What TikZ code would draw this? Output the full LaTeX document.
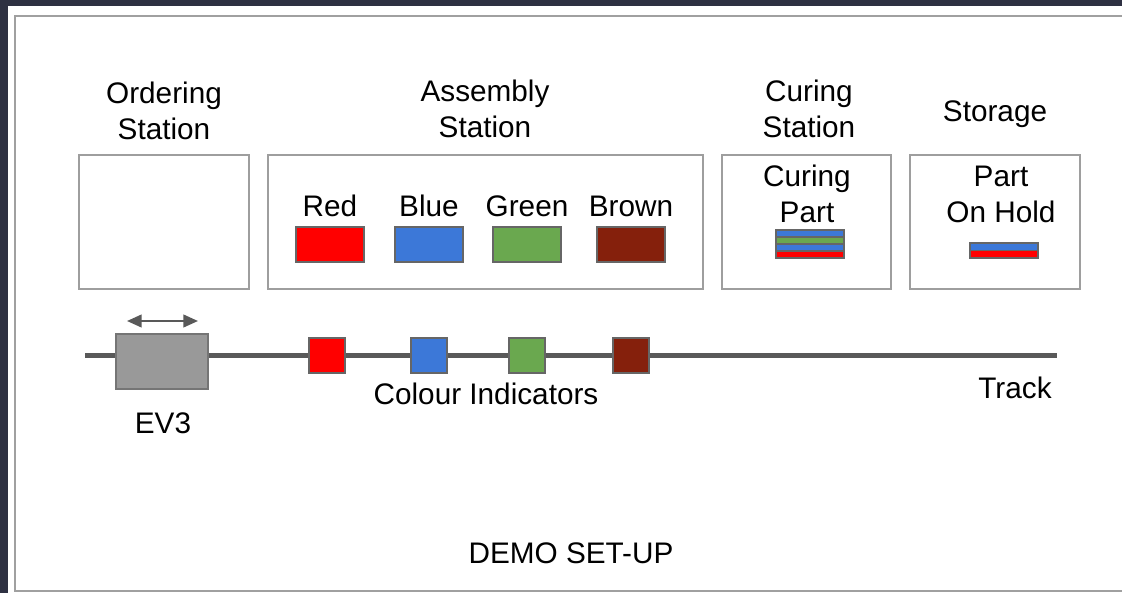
\documentclass[tikz,border=0pt]{standalone}
\usepackage{fontspec}
\setmainfont{Liberation Sans}
\usetikzlibrary{arrows.meta}
\definecolor{bgdark}{HTML}{2E3142}
\definecolor{framegray}{HTML}{A0A0A0}
\definecolor{boxgray}{HTML}{9E9E9E}
\definecolor{edgegray}{HTML}{666666}
\definecolor{trackgray}{HTML}{595959}
\definecolor{evgray}{HTML}{999999}
\definecolor{cred}{HTML}{FF0000}
\definecolor{cblue}{HTML}{3C78D8}
\definecolor{cgreen}{HTML}{6AA84F}
\definecolor{cbrown}{HTML}{85200C}
\tikzset{
  lbl/.style={align=center, inner sep=0pt, font=\fontsize{22.3}{27}\selectfont},
  station/.style={draw=boxgray, line width=1pt, minimum height=100.5pt, inner sep=0pt, outer sep=0pt},
  swatch/.style={draw=edgegray, line width=1.2pt, minimum width=51pt, minimum height=26.25pt, inner sep=0pt, outer sep=0pt},
  stripe/.style={draw=edgegray, line width=0.9pt, minimum width=51pt, minimum height=5.25pt, inner sep=0pt, outer sep=0pt},
  indicator/.style={draw=edgegray, line width=1.2pt, minimum width=27pt, minimum height=26.25pt, inner sep=0pt, outer sep=0pt},
}
\begin{document}
\begin{tikzpicture}[x=0.75pt,y=-0.75pt]
\useasboundingbox (0,0) rectangle (1122,593);
\clip (0,0) rectangle (1122,593);
\fill[bgdark] (0,0) rectangle (1122,593);
\fill[white] (8,6) rectangle (1130,600);
\draw[framegray, line width=1.8pt] (15,16) rectangle (1135,591);

% titles
\node[lbl] (tord) at (164,111) {Ordering\\Station};
\node[lbl] (tasm) at (485,108.5) {Assembly\\Station};
\node[lbl] (tcur) at (809,108.5) {Curing\\Station};
\node[lbl] (tsto) at (995,114) {Storage};

% station boxes
\node[station, minimum width=127.5pt] (ord) at (164,222) {};
\node[station, minimum width=326.25pt] (asm) at (485.5,222) {};
\node[station, minimum width=126.75pt] (cur) at (806.5,222) {};
\node[station, minimum width=127.5pt] (sto) at (995,222) {};

% assembly colours
\node[lbl] (lred) at (330,206) {Red};
\node[lbl] (lblue) at (429,206) {Blue};
\node[lbl] (lgreen) at (527,206) {Green};
\node[lbl] (lbrown) at (631,206) {Brown};
\node[swatch, fill=cred] (sred) at (330,244.5) {};
\node[swatch, fill=cblue] (sblue) at (429,244.5) {};
\node[swatch, fill=cgreen] (sgreen) at (527,244.5) {};
\node[swatch, fill=cbrown] (sbrown) at (631,244.5) {};

% curing part
\node[lbl] (lcur) at (807,194) {Curing\\Part};
\node[stripe, fill=cblue] (c1) at (810,233.5) {};
\node[stripe, fill=cgreen] (c2) at (810,240.5) {};
\node[stripe, fill=cblue] (c3) at (810,247.5) {};
\node[stripe, fill=cred] (c4) at (810,254.5) {};

% storage part
\node[lbl] (lsto) at (1001,194.5) {Part\\On Hold};
\node[stripe, fill=cblue, minimum height=5.6pt] (p1) at (1004,246.75) {};
\node[stripe, fill=cred, minimum height=5.6pt] (p2) at (1004,254.25) {};

% track
\coordinate (tl) at (85,355);
\coordinate (tr) at (1057,355);
\draw[trackgray, line width=3.75pt] (tl) -- (tr);

% EV3
\node[draw=edgegray!90, fill=evgray, line width=1.2pt, minimum width=69pt, minimum height=41.25pt, inner sep=0pt, outer sep=0pt] (ev3) at (162,361.5) {};
\coordinate (al) at (127,321);
\coordinate (ar) at (198,321);
\draw[trackgray, line width=1.6pt, {Triangle[length=11pt,width=9.5pt]}-{Triangle[length=11pt,width=9.5pt]}] (al) -- (ar);
\node[lbl] (lev3) at (163,423) {EV3};

% colour indicators
\node[indicator, fill=cred] (ired) at (327,355.5) {};
\node[indicator, fill=cblue] (iblue) at (429,355.5) {};
\node[indicator, fill=cgreen] (igreen) at (527,355.5) {};
\node[indicator, fill=cbrown] (ibrown) at (631,355.5) {};
\node[lbl] (lind) at (486,394) {Colour Indicators};
\node[lbl] (ltrack) at (1015,388) {Track};

\node[lbl] (demo) at (571,553) {DEMO SET-UP};
\end{tikzpicture}
\end{document}
